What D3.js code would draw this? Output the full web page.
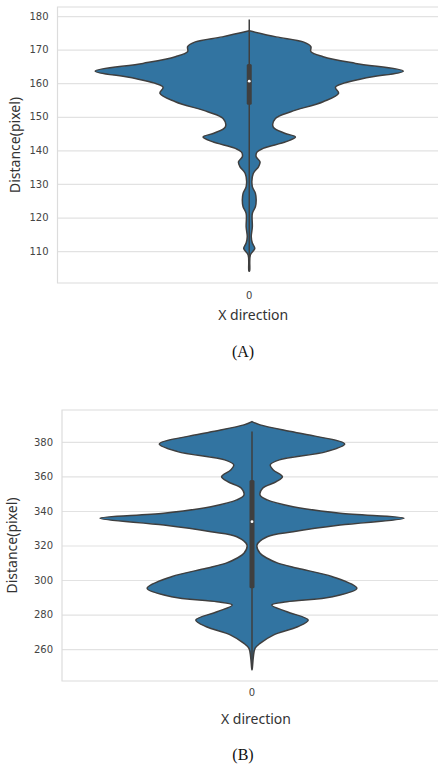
<!DOCTYPE html>
<html>
<head>
<meta charset="utf-8">
<script src="https://cdn.jsdelivr.net/npm/d3@7/dist/d3.min.js"></script>
<style>
  body { margin: 0; background: #fff; }
</style>
</head>
<body>
<div id="chart"></div>
<script>
const categories = ["0"];

// panel A: distance values (ascending) and relative density
const distA = [104.0, 104.3, 108.8, 110.8, 112.4, 114.3, 117.2, 121.2, 123.2, 125.2, 127.2, 129.2,
  133.1, 135.1, 136.6, 138.1, 139.5, 140.6, 142.6, 144.0, 145.1, 147.0, 149.5, 151.5, 154.5,
  157.0, 158.8, 161.4, 163.6, 165.9, 167.9, 169.4, 170.9, 172.3, 173.8, 175.6];
const densA = [0, 0.003, 0.007, 0.036, 0.02, 0.013, 0.02, 0.02, 0.04, 0.045, 0.04, 0.02,
  0.026, 0.06, 0.07, 0.045, 0.05, 0.09, 0.24, 0.30, 0.23, 0.155, 0.17, 0.27, 0.48,
  0.58, 0.56, 0.74, 1.0, 0.69, 0.48, 0.40, 0.40, 0.35, 0.175, 0];
// whisker low, q1, median, q3, whisker high
const boxA = [104, 153.6, 160.6, 165.7, 179];
const ticksA = [110, 120, 130, 140, 150, 160, 170, 180];

// panel B
const distB = [248.0, 248.8, 255.5, 260.4, 263.3, 268.1, 272.9, 276.8, 281.6, 285.5, 287.4,
  290.3, 295.2, 301.9, 306.8, 309.8, 312.6, 315.5, 320.3, 325.1, 328.0, 331.9, 335.8, 338.7,
  342.5, 346.4, 349.3, 353.2, 357.0, 359.9, 363.8, 366.7, 369.6, 374.4, 378.8, 385.0, 389.9, 391.8];
const densB = [0, 0.002, 0.009, 0.02, 0.053, 0.14, 0.30, 0.37, 0.23, 0.13, 0.23,
  0.53, 0.69, 0.53, 0.30, 0.17, 0.10, 0.053, 0.033, 0.10, 0.27, 0.58, 1.0, 0.58,
  0.27, 0.10, 0.053, 0.07, 0.16, 0.20, 0.14, 0.12, 0.18, 0.49, 0.61, 0.316, 0.053, 0];
const boxB = [248.8, 295.2, 333.8, 358.0, 386.0];
const ticksB = [260, 280, 300, 320, 340, 360, 380];

const panels = [
  { dist: distA, dens: densA, box: boxA, ticks: ticksA, domain: [100.5, 182.7],
    left: 57.5, right: 441, top: 7, bottom: 283, maxHalf: 154,
    yLabelX: 16, tickY: 300, xLabelY: 320, caption: "(A)", captionY: 357 },
  { dist: distB, dens: densB, box: boxB, ticks: ticksB, domain: [241.5, 398.5],
    left: 62, right: 442, top: 410, bottom: 681, maxHalf: 152,
    yLabelX: 13, tickY: 697, xLabelY: 724, caption: "(B)", captionY: 760 }
];

const svg = d3.select("#chart").append("svg")
  .attr("width", 438)
  .attr("height", 765);

const fill = "#3274a1";
const dark = "#3f3f3f";

panels.forEach(p => {
  const y = d3.scaleLinear().domain(p.domain).range([p.bottom, p.top]);
  const x = d3.scaleBand().domain(categories).range([p.left, p.right]);
  const w = d3.scaleLinear().domain([0, 1]).range([0, p.maxHalf]);
  const cx = x("0") + x.bandwidth() / 2;

  const g = svg.append("g");

  // y grid + tick labels
  const yAxis = g.append("g")
    .attr("transform", "translate(" + p.left + ",0)")
    .call(d3.axisLeft(y).tickValues(p.ticks).tickSize(-(p.right - p.left)).tickPadding(9));
  yAxis.select(".domain").remove();
  yAxis.selectAll(".tick line").attr("stroke", "#e2e2e2").attr("stroke-width", 1.2);
  yAxis.selectAll(".tick text")
    .attr("font-family", "DejaVu Sans")
    .attr("font-size", 10)
    .attr("fill", "#444");

  // frame (left, top, bottom)
  g.append("path")
    .attr("d", "M" + p.right + "," + p.top + "H" + p.left + "V" + p.bottom + "H" + p.right)
    .attr("fill", "none")
    .attr("stroke", "#dcdcdc")
    .attr("stroke-width", 1.2);

  // x tick label
  const xAxis = g.append("g")
    .attr("transform", "translate(0," + p.bottom + ")")
    .call(d3.axisBottom(x).tickSize(0).tickPadding(p.tickY - p.bottom - 8));
  xAxis.select(".domain").remove();
  xAxis.selectAll(".tick text")
    .attr("font-family", "DejaVu Sans")
    .attr("font-size", 10)
    .attr("fill", "#444");

  // violin
  const pts = p.dist.map((v, i) => ({ v: v, d: p.dens[i] }));
  const area = d3.area()
    .y(d => y(d.v))
    .x0(d => cx - w(d.d))
    .x1(d => cx + w(d.d))
    .curve(d3.curveCatmullRom.alpha(0.5));
  g.append("path")
    .datum(pts)
    .attr("d", area)
    .attr("fill", fill)
    .attr("stroke", dark)
    .attr("stroke-width", 1.5)
    .attr("stroke-linejoin", "round");

  // inner box
  g.append("line")
    .attr("x1", cx).attr("x2", cx)
    .attr("y1", y(p.box[0])).attr("y2", y(p.box[4]))
    .attr("stroke", dark)
    .attr("stroke-width", 1.5);
  g.append("rect")
    .attr("x", cx - 2.5)
    .attr("width", 5)
    .attr("y", y(p.box[3]))
    .attr("height", y(p.box[1]) - y(p.box[3]))
    .attr("rx", 1.5)
    .attr("fill", dark);
  g.append("circle")
    .attr("cx", cx)
    .attr("cy", y(p.box[2]))
    .attr("r", 1.4)
    .attr("fill", "#fff");

  // axis labels
  g.append("text")
    .attr("transform", "translate(" + p.yLabelX + "," + ((p.top + p.bottom) / 2) + ") rotate(-90)")
    .attr("text-anchor", "middle")
    .attr("dominant-baseline", "middle")
    .attr("font-family", "Noto Sans")
    .attr("font-size", 14)
    .attr("fill", "#333")
    .text("Distance(pixel)");
  g.append("text")
    .attr("x", cx + 4)
    .attr("y", p.xLabelY)
    .attr("text-anchor", "middle")
    .attr("font-family", "Noto Sans")
    .attr("font-size", 14)
    .attr("fill", "#333")
    .text("X direction");

  // caption
  g.append("text")
    .attr("x", 243)
    .attr("y", p.captionY)
    .attr("text-anchor", "middle")
    .attr("font-family", "Liberation Serif")
    .attr("font-size", 16)
    .attr("fill", "#111")
    .text(p.caption);
});
</script>
</body>
</html>
